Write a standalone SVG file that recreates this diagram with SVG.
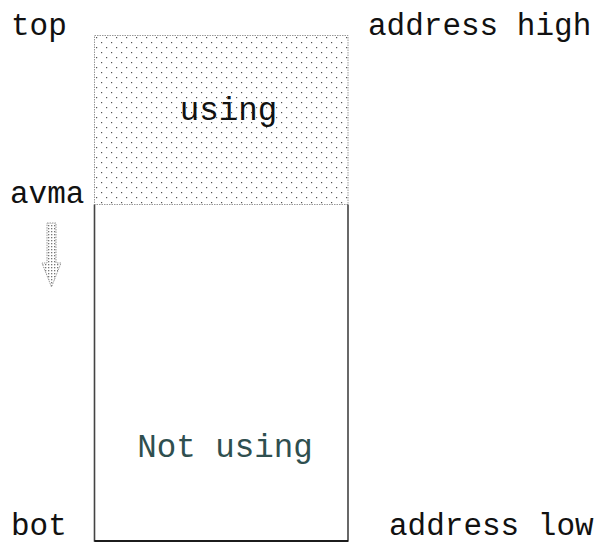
<svg xmlns="http://www.w3.org/2000/svg" width="600" height="544" viewBox="0 0 600 544">
<style>
.lbl{font-family:"Liberation Mono","Courier New",monospace;font-size:31px;fill:#111}
.big{font-size:32.5px}
.nu{fill:#2f4f4f}
</style>
<defs>
<pattern id="dots" width="10" height="10" patternUnits="userSpaceOnUse" x="94" y="35">
<rect x="2" y="2" width="1.2" height="1.2" fill="#555"/>
<rect x="7" y="7" width="1.2" height="1.2" fill="#555"/>
</pattern>
<pattern id="fine" width="3" height="3" patternUnits="userSpaceOnUse">
<rect x="0" y="0" width="1.3" height="1.3" fill="#777"/>
</pattern>
</defs>
<rect width="600" height="544" fill="#fff"/>
<g id="using">
<rect x="94.5" y="35.5" width="253.5" height="169" fill="url(#dots)" stroke="#999" stroke-width="1" stroke-dasharray="1.5 1"/>
<text class="lbl big" x="228.5" y="120" text-anchor="middle">using</text>
</g>
<g id="notusing">
<path d="M94.5,204.5 V541 H348 V204.5" fill="none" stroke="#444" stroke-width="1.6"/>
<path d="M94.5,541 H348" fill="none" stroke="#000" stroke-width="1.4"/>
<text class="lbl big nu" x="225" y="457" text-anchor="middle">Not using</text>
</g>
<g id="labels">
<text class="lbl" x="11" y="35">top</text>
<text class="lbl" x="368" y="35">address high</text>
<text class="lbl" x="10" y="203">avma</text>
<text class="lbl" x="11" y="535">bot</text>
<text class="lbl" x="389" y="535">address low</text>
</g>
<g id="connectors">
<polygon points="47,223 56,223 56,263 61,263 51.5,287 42,263 47,263" fill="url(#fine)" stroke="#999" stroke-width="1" stroke-dasharray="1.5 1"/>
</g>
</svg>
